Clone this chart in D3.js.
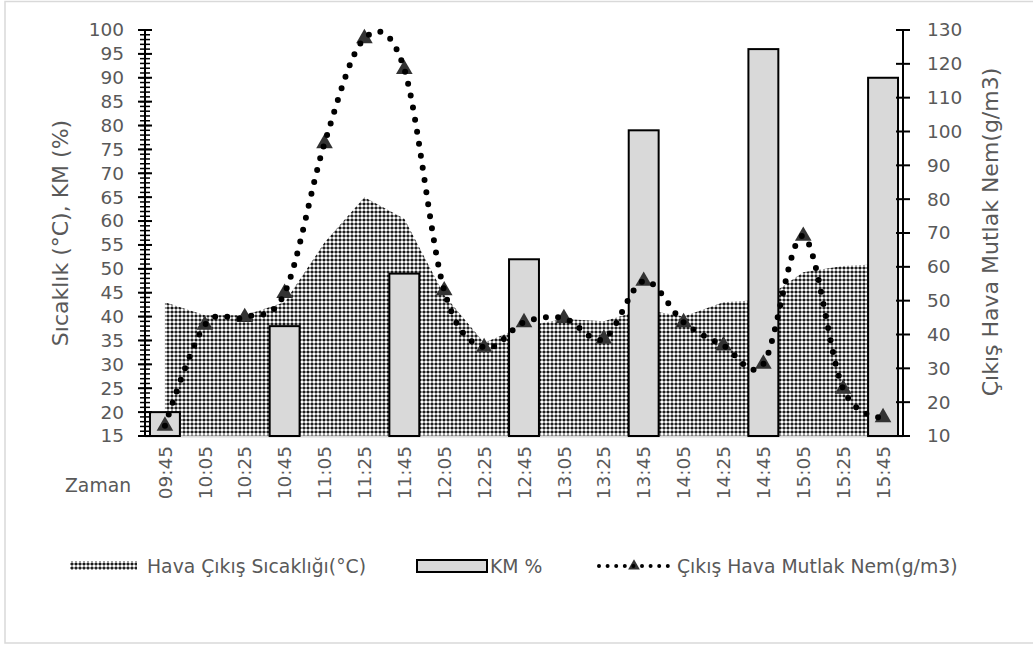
<!DOCTYPE html>
<html><head><meta charset="utf-8">
<script src="https://cdn.jsdelivr.net/npm/d3@7/dist/d3.min.js"></script>
<style>
html,body{margin:0;padding:0;background:#fff;}
text{font-family:"DejaVu Sans",sans-serif;fill:#595959;}
</style></head>
<body>
<svg id="chart" width="1033" height="646"></svg>
<script>
const categories = ["09:45","10:05","10:25","10:45","11:05","11:25","11:45","12:05","12:25","12:45","13:05","13:25","13:45","14:05","14:25","14:45","15:05","15:25","15:45"];
const tempValues = [43,40.3,40.3,43,55.5,65,60.5,44.5,34.5,38,39.5,39,41.5,40,43,43.5,49.3,50.6,51];
const kmValues = [20,null,null,38,null,null,49,null,null,52,null,null,79,null,null,96,null,null,90];
const nemValues = [13,42.8,45.1,52.2,96.5,127.5,118.4,53,36.2,43.6,44.8,38.7,55.8,43.6,36.7,31.3,69.1,23.9,15.5];
const leftTicks = d3.range(15,101,5);
const leftMinorTicks = d3.range(15,101,1);
const rightTicks = d3.range(10,131,10);
const seriesNames = ["Hava Çıkış Sıcaklığı(°C)","KM %","Çıkış Hava Mutlak Nem(g/m3)"];

const svg = d3.select("#chart");
const X0 = 145, X1 = 903, YT = 30, YB = 436;

// chart border
svg.append("rect").attr("x",5).attr("y",1.5).attr("width",1040).attr("height",641.5)
  .attr("fill","none").attr("stroke","#d9d9d9").attr("stroke-width",1.5);

const defs = svg.append("defs");
const pat = defs.append("pattern").attr("id","hatch").attr("patternUnits","userSpaceOnUse")
  .attr("width",8).attr("height",8);
pat.append("rect").attr("width",8).attr("height",8).attr("fill","#000");
[[2,2],[6,2],[2,6],[6,6]].forEach(([a,b])=>{
  pat.append("circle").attr("cx",a).attr("cy",b).attr("r",1.8).attr("fill","#fff");
});
pat.append("circle").attr("cx",4).attr("cy",4).attr("r",0.7).attr("fill","#000");

const x = d3.scaleBand().domain(categories).range([X0,X1]).paddingInner(0.25).paddingOuter(0.125);
const cx = c => x(c) + x.bandwidth()/2;
const yL = d3.scaleLinear().domain([15,100]).range([YB,YT]);
const yR = d3.scaleLinear().domain([10,130]).range([YB,YT]);

// area
const area = d3.area().x((d,i)=>cx(categories[i])).y0(YB).y1(d=>yL(d));
svg.append("path").datum(tempValues).attr("d",area).attr("fill","url(#hatch)");

// x axis line
svg.append("line").attr("x1",X0).attr("x2",X1).attr("y1",YB+0.5).attr("y2",YB+0.5)
  .attr("stroke","#d9d9d9").attr("stroke-width",2);

// bars
const barData = categories.map((c,i)=>({c,v:kmValues[i]})).filter(d=>d.v!=null);
svg.append("g").selectAll("rect").data(barData).join("rect")
  .attr("x",d=>x(d.c)).attr("width",x.bandwidth())
  .attr("y",d=>yL(d.v)).attr("height",d=>YB-yL(d.v))
  .attr("fill","#d9d9d9").attr("stroke","#000").attr("stroke-width",2);

// markers
const tri = d3.symbol().type(d3.symbolTriangle).size(120);
svg.append("g").selectAll("path").data(nemValues).join("path")
  .attr("d",tri).attr("transform",(d,i)=>`translate(${cx(categories[i])},${yR(d)})`)
  .attr("fill","#333");

// dotted smooth line
const line = d3.line().x((d,i)=>cx(categories[i])).y(d=>yR(d)).curve(d3.curveCardinal.tension(0));
svg.append("path").datum(nemValues).attr("d",line).attr("fill","none")
  .attr("stroke","#000").attr("stroke-width",6).attr("stroke-linecap","round")
  .attr("stroke-dasharray","0 12.2");

// left axis
const gL = svg.append("g").attr("transform",`translate(${X0},0)`);
gL.append("line").attr("y1",YT).attr("y2",YB).attr("stroke","#000").attr("stroke-width",2);
gL.selectAll("line.minor").data(leftMinorTicks).join("line").attr("class","minor")
  .attr("x1",-5).attr("x2",5).attr("y1",d=>yL(d)).attr("y2",d=>yL(d))
  .attr("stroke","#000").attr("stroke-width",1.5);
gL.selectAll("line.major").data(leftTicks).join("line").attr("class","major")
  .attr("x1",-7).attr("x2",7).attr("y1",d=>yL(d)).attr("y2",d=>yL(d))
  .attr("stroke","#000").attr("stroke-width",2);
const axL = d3.axisLeft(yL).tickValues(leftTicks).tickSize(0).tickPadding(21);
const gAL = svg.append("g").attr("transform",`translate(${X0},0)`).call(axL);
gAL.select(".domain").remove();
gAL.selectAll("text").attr("font-size","18.5px").attr("font-family","DejaVu Sans").attr("fill","#595959");

// right axis
const gR = svg.append("g").attr("transform",`translate(${X1},0)`);
gR.append("line").attr("y1",YT).attr("y2",YB).attr("stroke","#000").attr("stroke-width",2);
gR.selectAll("line.major").data(rightTicks).join("line").attr("class","major")
  .attr("x1",-7).attr("x2",7).attr("y1",d=>yR(d)).attr("y2",d=>yR(d))
  .attr("stroke","#000").attr("stroke-width",2);
const axR = d3.axisRight(yR).tickValues(rightTicks).tickSize(0).tickPadding(24);
const gAR = svg.append("g").attr("transform",`translate(${X1},0)`).call(axR);
gAR.select(".domain").remove();
gAR.selectAll("text").attr("font-size","18.5px").attr("font-family","DejaVu Sans").attr("fill","#595959");

// x labels
svg.append("g").selectAll("text").data(categories).join("text")
  .attr("transform",d=>`translate(${cx(d)},446) rotate(-90)`)
  .attr("text-anchor","end").attr("dy","0.36em").attr("font-size","18.5px").text(d=>d);
svg.append("text").attr("x",65).attr("y",492).attr("font-size","18.8px").text("Zaman");

// axis titles
svg.append("text").attr("transform","translate(68,233) rotate(-90)").attr("text-anchor","middle")
  .attr("font-size","22px").text("Sıcaklık (°C), KM (%)");
svg.append("text").attr("transform","translate(998,232) rotate(-90)").attr("text-anchor","middle")
  .attr("font-size","22px").text("Çıkış Hava Mutlak Nem(g/m3)");

// legend
const lg = svg.append("g");
lg.append("rect").attr("x",70).attr("y",561).attr("width",67).attr("height",9).attr("fill","url(#hatch)");
lg.append("text").attr("x",147).attr("y",573).attr("font-size","18.8px").text(seriesNames[0]);
lg.append("rect").attr("x",417).attr("y",560).attr("width",70).attr("height",12)
  .attr("fill","#d9d9d9").attr("stroke","#000").attr("stroke-width",2);
lg.append("text").attr("x",490).attr("y",573).attr("font-size","18.8px").text(seriesNames[1]);
lg.append("path").attr("d",d3.symbol().type(d3.symbolTriangle).size(60)()).attr("transform","translate(634,566)").attr("fill","#333");
lg.append("line").attr("x1",599).attr("x2",668).attr("y1",566).attr("y2",566)
  .attr("stroke","#000").attr("stroke-width",4).attr("stroke-linecap","round").attr("stroke-dasharray","0 8.6");
lg.append("text").attr("x",677).attr("y",573).attr("font-size","18.8px").text(seriesNames[2]);
</script>
</body></html>
